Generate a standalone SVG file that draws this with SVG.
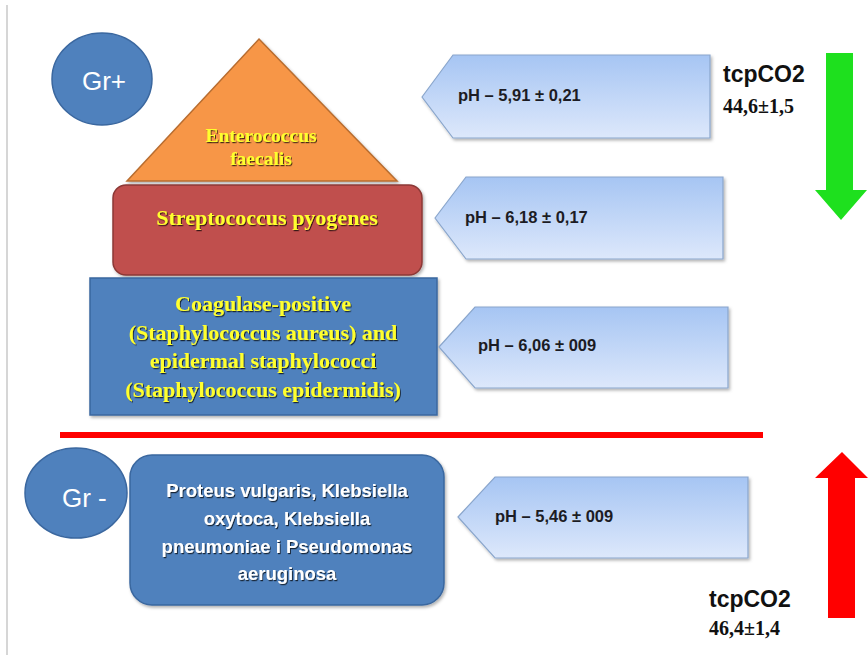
<svg xmlns="http://www.w3.org/2000/svg" width="868" height="660" viewBox="0 0 868 660">
<defs>
<linearGradient id="pentGrad" x1="0" y1="0" x2="0" y2="1">
<stop offset="0" stop-color="#a6c5f3"/>
<stop offset="1" stop-color="#dde8fb"/>
</linearGradient>
<filter id="shadow" x="-10%" y="-10%" width="130%" height="140%">
<feDropShadow dx="1.5" dy="2" stdDeviation="1.5" flood-color="#000" flood-opacity="0.3"/>
</filter>
<filter id="txtShadow" x="-5%" y="-20%" width="115%" height="160%">
<feDropShadow dx="1" dy="1.2" stdDeviation="0.7" flood-color="#000" flood-opacity="0.7"/>
</filter>
</defs>
<style>
.blue{fill:#4f81bd;stroke:#3a679f;stroke-width:1.5}
.pent{fill:url(#pentGrad);stroke:#8aa6cc;stroke-width:1.2}
.gr{font-family:"Liberation Sans",Arial,sans-serif;font-size:26px;fill:#ffffff}
.yel{font-family:"Liberation Serif","Times New Roman",serif;font-weight:bold;fill:#ffff2e;text-anchor:middle}
.wht{font-family:"Liberation Sans",Arial,sans-serif;font-weight:bold;font-size:18.5px;fill:#ffffff;text-anchor:middle}
.ph{font-family:"Liberation Sans",Arial,sans-serif;font-weight:bold;font-size:16.5px;fill:#1c1c24}
.tcp{font-family:"Liberation Sans",Arial,sans-serif;font-weight:bold;font-size:23px;fill:#111}
.val{font-family:"Liberation Serif","Times New Roman",serif;font-weight:bold;font-size:20px;fill:#111}
</style>
<rect x="0" y="0" width="868" height="660" fill="#ffffff"/>
<line x1="7" y1="5" x2="7" y2="655" stroke="#c8c8c8" stroke-width="1.5"/>

<g id="gr-plus">
<ellipse cx="102" cy="79" rx="50" ry="46" class="blue"/>
<text x="104" y="90" class="gr" text-anchor="middle">Gr+</text>
</g>

<g id="enterococcus" filter="url(#shadow)">
<polygon points="259,39 397,181 127,181" fill="#f79646" stroke="#b86d30" stroke-width="1.5"/>
</g>
<g id="enterococcus-label" filter="url(#txtShadow)">
<text x="261" y="142" class="yel" font-size="19.5">Enterococcus</text>
<text x="261" y="165" class="yel" font-size="19.5">faecalis</text>
</g>

<g id="streptococcus">
<rect x="113" y="185" width="309" height="90" rx="13" fill="#c0504d" stroke="#8c3836" stroke-width="1.5" filter="url(#shadow)"/>
<text x="267" y="225" class="yel" font-size="22" filter="url(#txtShadow)">Streptococcus pyogenes</text>
</g>

<g id="staphylococcus">
<rect x="90" y="278" width="347" height="137" class="blue" filter="url(#shadow)"/>
<g filter="url(#txtShadow)">
<text x="263" y="311" class="yel" font-size="22">Coagulase-positive</text>
<text x="263" y="339.5" class="yel" font-size="22">(Staphylococcus aureus) and</text>
<text x="263" y="368" class="yel" font-size="22">epidermal staphylococci</text>
<text x="263" y="396.5" class="yel" font-size="22">(Staphylococcus epidermidis)</text>
</g>
</g>

<g id="divider">
<rect x="60" y="432" width="703" height="6" fill="#ff0000"/>
</g>

<g id="gr-minus">
<ellipse cx="76" cy="493" rx="51" ry="45" class="blue"/>
<text x="62" y="507" class="gr">Gr -</text>
</g>

<g id="gram-negative">
<rect x="130" y="455" width="314" height="150" rx="22" class="blue" filter="url(#shadow)"/>
<g filter="url(#txtShadow)">
<text x="287" y="497" class="wht">Proteus vulgaris, Klebsiella</text>
<text x="287" y="525" class="wht">oxytoca, Klebsiella</text>
<text x="287" y="553" class="wht">pneumoniae i Pseudomonas</text>
<text x="287" y="580" class="wht">aeruginosa</text>
</g>
</g>

<g id="ph1">
<polygon points="422,97 453,55 710,55 710,138 453,138" class="pent" filter="url(#shadow)"/>
<text x="458" y="101" class="ph">pH – 5,91 ± 0,21</text>
</g>
<g id="ph2">
<polygon points="435,218 466,177 723,177 723,259 466,259" class="pent" filter="url(#shadow)"/>
<text x="465" y="223" class="ph">pH – 6,18 ± 0,17</text>
</g>
<g id="ph3">
<polygon points="439,347 475,307 728,307 728,388 475,388" class="pent" filter="url(#shadow)"/>
<text x="478" y="351" class="ph">pH – 6,06 ± 009</text>
</g>
<g id="ph4">
<polygon points="458,517 495,477 748,477 748,558 495,558" class="pent" filter="url(#shadow)"/>
<text x="495" y="522" class="ph">pH – 5,46 ± 009</text>
</g>

<g id="tcp-top">
<text x="723" y="82" class="tcp">tcpCO2</text>
<text x="723" y="113" class="val">44,6±1,5</text>
</g>
<g id="tcp-bottom">
<text x="709" y="607" class="tcp">tcpCO2</text>
<text x="709" y="635" class="val">46,4±1,4</text>
</g>

<g id="connectors">
<polygon points="826,53 853,53 853,190 867,190 841,220 815,190 826,190" fill="#1ee01e"/>
<polygon points="842,452 868,478 855,478 855,618 828,618 828,478 815,478" fill="#ff0000"/>
</g>
</svg>
